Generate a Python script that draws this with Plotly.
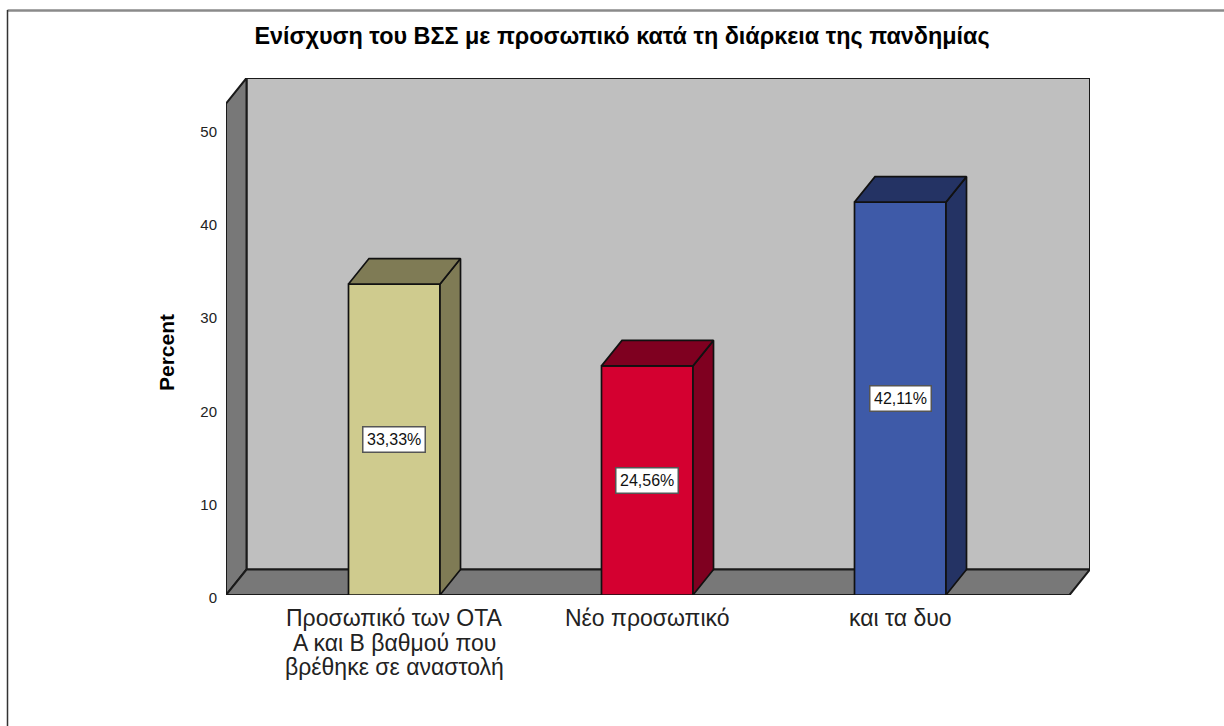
import plotly.graph_objects as go

category_lines = [
    ["Προσωπικό των ΟΤΑ", "Α και Β βαθμού που", "βρέθηκε σε αναστολή"],
    ["Νέο προσωπικό"],
    ["και τα δυο"],
]
values = [33.33, 24.56, 42.11]
y_ticks = [0, 10, 20, 30, 40, 50]
title_text = "Ενίσχυση του ΒΣΣ με προσωπικό κατά τη διάρκεια της πανδημίας"
y_title = "Percent"
front_colors = ["#CFCB8E", "#D40030", "#3E5AA8"]
side_colors = ["#7F7B55", "#7F0020", "#243364"]

W, H = 1224, 726
FONT = "Liberation Sans"
LEFT, RIGHT, TOP, BOTTOM = 226, 1090, 78, 595
X_UNIT = 253.0
Y_UNIT = 9.33
X0_PX = 394.25
BAR_W = 91.5 / X_UNIT
DX = 20.5 / X_UNIT
DY = 25.5 / Y_UNIT
x_min = (LEFT - X0_PX) / X_UNIT
x_max = (RIGHT - X0_PX) / X_UNIT
y_max = (BOTTOM - TOP) / Y_UNIT
positions = list(range(len(values)))


def poly(pts):
    return "M " + " L ".join(f"{a},{b}" for a, b in pts) + " Z"


fig = go.Figure()

fig.add_trace(go.Bar(
    x=positions, y=values, width=BAR_W,
    marker=dict(color=front_colors, line=dict(color="#111111", width=1.7)),
    hoverinfo="skip", showlegend=False,
))

for i, v in zip(positions, values):
    xl, xr = i - BAR_W / 2, i + BAR_W / 2
    side = [(xr, 0), (xr + DX, DY), (xr + DX, v + DY), (xr, v), (xr, 0)]
    top = [(xl, v), (xl + DX, v + DY), (xr + DX, v + DY), (xr, v), (xl, v)]
    for pts in (side, top):
        fig.add_trace(go.Scatter(
            x=[p[0] for p in pts], y=[p[1] for p in pts], mode="lines",
            fill="toself", fillcolor=side_colors[i],
            line=dict(color="#111111", width=1.7),
            hoverinfo="skip", showlegend=False,
        ))

wall_line = dict(color="#1a1a1a", width=2)
shapes = [
    dict(type="path", layer="below", xref="x", yref="y", fillcolor="#BFBFBF", line=wall_line,
         path=poly([(x_min + DX, DY), (x_max, DY), (x_max, y_max), (x_min + DX, y_max)])),
    dict(type="path", layer="below", xref="x", yref="y", fillcolor="#787878", line=wall_line,
         path=poly([(x_min, 0), (x_min + DX, DY), (x_min + DX, y_max), (x_min, y_max - DY)])),
    dict(type="path", layer="below", xref="x", yref="y", fillcolor="#787878", line=wall_line,
         path=poly([(x_min, 0), (x_max - DX, 0), (x_max, DY), (x_min + DX, DY)])),
    dict(type="line", xref="paper", yref="paper", x0=7.5 / W, x1=1, y0=1 - 10.5 / H, y1=1 - 10.5 / H,
         line=dict(color="#8a8a8a", width=2.5)),
    dict(type="line", xref="paper", yref="paper", x0=7.5 / W, x1=7.5 / W, y0=0, y1=1 - 10 / H,
         line=dict(color="#333333", width=1.5)),
]

annotations = [
    dict(x=i, y=v / 2, xref="x", yref="y", showarrow=False,
         text=f"{v:.2f}".replace(".", ",") + "%",
         font=dict(family=FONT, size=16, color="#111111"),
         bgcolor="white", bordercolor="#555555", borderwidth=1.5, borderpad=3.5)
    for i, v in zip(positions, values)
]
annotations.append(dict(
    x=166 / W, y=1 - 353 / H, xref="paper", yref="paper", showarrow=False,
    xanchor="center", yanchor="middle",
    text=f"<b>{y_title}</b>", textangle=-90,
    font=dict(family=FONT, size=21, color="#000000"),
))
for i, lines in zip(positions, category_lines):
    for n, line in enumerate(lines):
        annotations.append(dict(
            x=i, y=1 - (618 + 24.5 * n) / H, xref="x", yref="paper", showarrow=False,
            xanchor="center", yanchor="middle", text=line,
            font=dict(family=FONT, size=23, color="#222222"),
        ))

fig.update_layout(
    width=W, height=H, autosize=False,
    margin=dict(l=0, r=0, t=0, b=0),
    paper_bgcolor="white", plot_bgcolor="rgba(0,0,0,0)",
    title=dict(text=f"<b>{title_text}</b>", x=622 / W, xanchor="center", xref="paper",
               y=1 - 36 / H, yanchor="middle", yref="paper",
               font=dict(family=FONT, size=23.4, color="#000000")),
    xaxis=dict(domain=[LEFT / W, RIGHT / W], range=[x_min, x_max], showgrid=False, automargin=False,
               zeroline=False, showline=False, ticks="", showticklabels=False),
    yaxis=dict(domain=[1 - BOTTOM / H, 1 - TOP / H], range=[0, y_max], tickmode="array", automargin=False,
               tickvals=y_ticks, showgrid=False, zeroline=False, showline=False, ticks="",
               ticklabelstandoff=8, ticklabelshift=3,
               tickfont=dict(family=FONT, size=15, color="#222222")),
    shapes=shapes, annotations=annotations, showlegend=False,
)

fig.write_html("out.html", config={"displayModeBar": False},
               post_script="document.body.style.margin='0';")
